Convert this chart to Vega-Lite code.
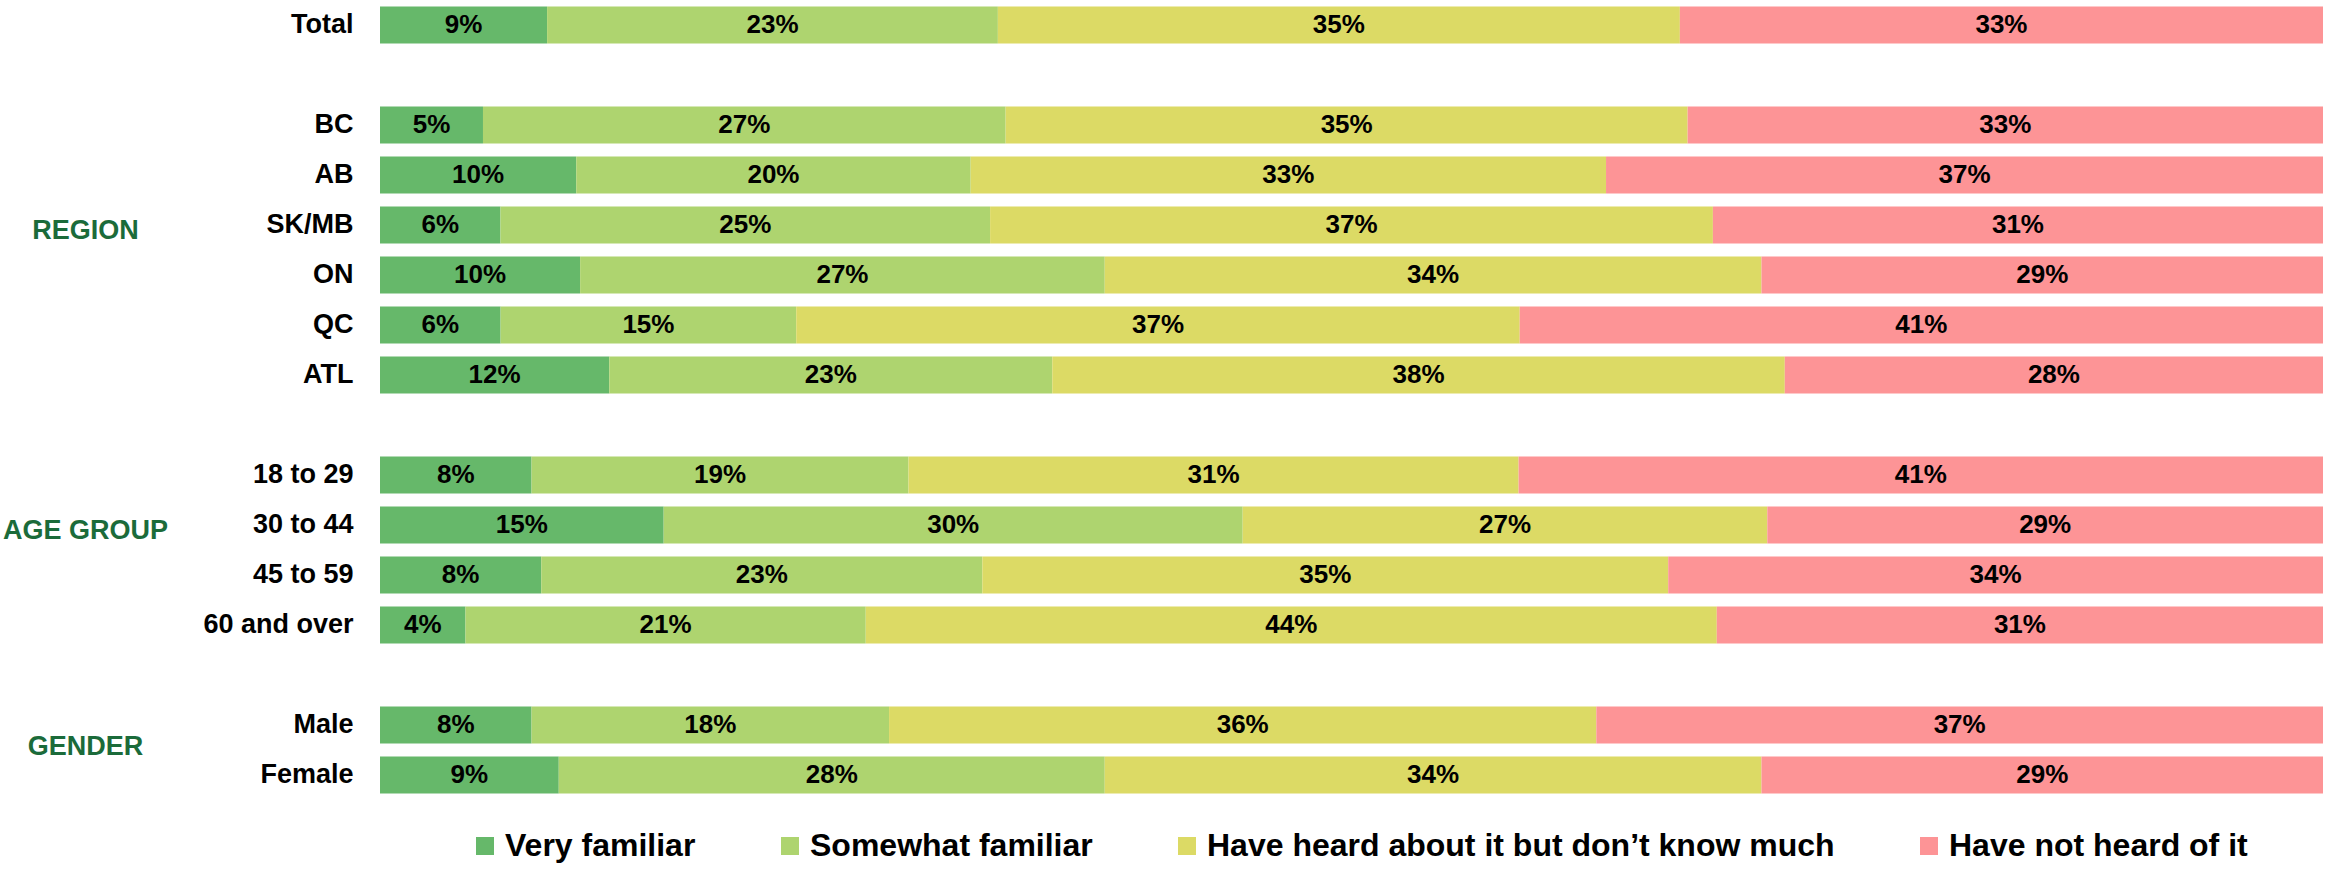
{
  "$schema": "https://vega.github.io/schema/vega-lite/v6.json",
  "width": 1943,
  "height": 800,
  "autosize": {"type": "none"},
  "padding": {"left": 380, "top": 0, "right": 10, "bottom": 69},
  "background": "white",
  "config": {"view": {"stroke": null}, "font": "Liberation Sans"},
  "data": {"values": [
    {"row": "Total", "cat": "Very familiar", "v": 8.6},
    {"row": "Total", "cat": "Somewhat familiar", "v": 23.2},
    {"row": "Total", "cat": "Have heard about it but don’t know much", "v": 35.1},
    {"row": "Total", "cat": "Have not heard of it", "v": 33.1},
    {"row": "BC", "cat": "Very familiar", "v": 5.3},
    {"row": "BC", "cat": "Somewhat familiar", "v": 26.9},
    {"row": "BC", "cat": "Have heard about it but don’t know much", "v": 35.1},
    {"row": "BC", "cat": "Have not heard of it", "v": 32.7},
    {"row": "AB", "cat": "Very familiar", "v": 10.1},
    {"row": "AB", "cat": "Somewhat familiar", "v": 20.3},
    {"row": "AB", "cat": "Have heard about it but don’t know much", "v": 32.7},
    {"row": "AB", "cat": "Have not heard of it", "v": 36.9},
    {"row": "SK/MB", "cat": "Very familiar", "v": 6.2},
    {"row": "SK/MB", "cat": "Somewhat familiar", "v": 25.2},
    {"row": "SK/MB", "cat": "Have heard about it but don’t know much", "v": 37.2},
    {"row": "SK/MB", "cat": "Have not heard of it", "v": 31.4},
    {"row": "ON", "cat": "Very familiar", "v": 10.3},
    {"row": "ON", "cat": "Somewhat familiar", "v": 27.0},
    {"row": "ON", "cat": "Have heard about it but don’t know much", "v": 33.8},
    {"row": "ON", "cat": "Have not heard of it", "v": 28.9},
    {"row": "QC", "cat": "Very familiar", "v": 6.2},
    {"row": "QC", "cat": "Somewhat familiar", "v": 15.2},
    {"row": "QC", "cat": "Have heard about it but don’t know much", "v": 37.2},
    {"row": "QC", "cat": "Have not heard of it", "v": 41.3},
    {"row": "ATL", "cat": "Very familiar", "v": 11.8},
    {"row": "ATL", "cat": "Somewhat familiar", "v": 22.8},
    {"row": "ATL", "cat": "Have heard about it but don’t know much", "v": 37.7},
    {"row": "ATL", "cat": "Have not heard of it", "v": 27.7},
    {"row": "18 to 29", "cat": "Very familiar", "v": 7.8},
    {"row": "18 to 29", "cat": "Somewhat familiar", "v": 19.4},
    {"row": "18 to 29", "cat": "Have heard about it but don’t know much", "v": 31.4},
    {"row": "18 to 29", "cat": "Have not heard of it", "v": 41.4},
    {"row": "30 to 44", "cat": "Very familiar", "v": 14.6},
    {"row": "30 to 44", "cat": "Somewhat familiar", "v": 29.8},
    {"row": "30 to 44", "cat": "Have heard about it but don’t know much", "v": 27.0},
    {"row": "30 to 44", "cat": "Have not heard of it", "v": 28.6},
    {"row": "45 to 59", "cat": "Very familiar", "v": 8.3},
    {"row": "45 to 59", "cat": "Somewhat familiar", "v": 22.7},
    {"row": "45 to 59", "cat": "Have heard about it but don’t know much", "v": 35.3},
    {"row": "45 to 59", "cat": "Have not heard of it", "v": 33.7},
    {"row": "60 and over", "cat": "Very familiar", "v": 4.4},
    {"row": "60 and over", "cat": "Somewhat familiar", "v": 20.6},
    {"row": "60 and over", "cat": "Have heard about it but don’t know much", "v": 43.8},
    {"row": "60 and over", "cat": "Have not heard of it", "v": 31.2},
    {"row": "Male", "cat": "Very familiar", "v": 7.8},
    {"row": "Male", "cat": "Somewhat familiar", "v": 18.4},
    {"row": "Male", "cat": "Have heard about it but don’t know much", "v": 36.4},
    {"row": "Male", "cat": "Have not heard of it", "v": 37.4},
    {"row": "Female", "cat": "Very familiar", "v": 9.2},
    {"row": "Female", "cat": "Somewhat familiar", "v": 28.1},
    {"row": "Female", "cat": "Have heard about it but don’t know much", "v": 33.8},
    {"row": "Female", "cat": "Have not heard of it", "v": 28.9}
  ]},
  "transform": [
    {"calculate": "indexof(['Very familiar','Somewhat familiar','Have heard about it but don’t know much','Have not heard of it'], datum.cat)", "as": "k"},
    {"stack": "v", "groupby": ["row"], "sort": [{"field": "k", "order": "ascending"}], "offset": "normalize", "as": ["x0", "x1"]},
    {"calculate": "(datum.x0 + datum.x1) / 2", "as": "xm"},
    {"calculate": "format(datum.v, '.0f') + '%'", "as": "lbl"}
  ],
  "layer": [
    {
      "mark": {"type": "bar"},
      "encoding": {
        "y": {
          "field": "row", "type": "nominal",
          "scale": {"domain": ["Total", "_1", "BC", "AB", "SK/MB", "ON", "QC", "ATL", "_2", "18 to 29", "30 to 44", "45 to 59", "60 and over", "_3", "Male", "Female"], "paddingInner": 0.26, "paddingOuter": 0.13},
          "axis": {"title": null, "domain": false, "ticks": false, "labelPadding": 27, "labelFontSize": 27, "labelFontWeight": "bold", "labelColor": "black", "labelLimit": 400, "labelExpr": "indexof(datum.value, '_') == 0 ? '' : datum.value"}
        },
        "x": {"field": "x0", "type": "quantitative", "scale": {"domain": [0, 1], "nice": false}, "axis": null},
        "x2": {"field": "x1"},
        "color": {
          "field": "cat", "type": "nominal",
          "scale": {"domain": ["Very familiar", "Somewhat familiar", "Have heard about it but don’t know much", "Have not heard of it"], "range": ["#66B86A", "#AED46F", "#DCDA65", "#FD9496"]},
          "legend": {"title": null, "orient": "none", "legendX": 89, "legendY": 830, "direction": "horizontal", "symbolType": "square", "symbolSize": 324, "symbolStrokeWidth": 0, "symbolOpacity": 1, "labelFontSize": 32, "labelFontWeight": "bold", "labelColor": "black", "labelOffset": 4, "columnPadding": 78, "labelLimit": 1000}
        }
      }
    },
    {
      "mark": {"type": "text", "fontSize": 26, "fontWeight": "bold", "color": "black", "baseline": "middle", "align": "center"},
      "encoding": {
        "y": {
          "field": "row", "type": "nominal",
          "scale": {"domain": ["Total", "_1", "BC", "AB", "SK/MB", "ON", "QC", "ATL", "_2", "18 to 29", "30 to 44", "45 to 59", "60 and over", "_3", "Male", "Female"], "paddingInner": 0.26, "paddingOuter": 0.13},
          "axis": {"title": null, "orient": "left", "domain": false, "ticks": false, "labelPadding": 295, "labelAlign": "center", "labelFontSize": 27, "labelFontWeight": "bold", "labelColor": "#1B6B3A", "labelLimit": 400, "labelExpr": "datum.value == 'SK/MB' ? 'REGION' : datum.value == '30 to 44' ? 'AGE GROUP' : datum.value == 'Male' ? 'GENDER' : ''", "labelOffset": {"condition": {"test": "datum.value == 'Male'", "value": 22}, "value": 6}}
        },
        "x": {"field": "xm", "type": "quantitative"},
        "text": {"field": "lbl", "type": "nominal"}
      }
    }
  ],
  "resolve": {"axis": {"y": "independent"}}
}
